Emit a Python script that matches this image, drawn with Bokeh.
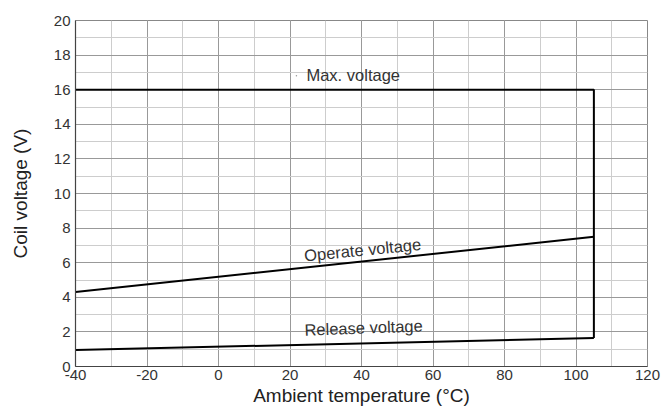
from bokeh.plotting import figure
from bokeh.models import Range1d, SingleIntervalTicker, PrintfTickFormatter
from bokeh.core.properties import value
from bokeh.embed import file_html
from bokeh.resources import INLINE

# Data
temps = [-40, 105]
max_v = [16, 16]
operate_v = [4.3, 7.5]
release_v = [0.95, 1.65]
x_ticks_interval = 20
y_ticks_interval = 2

FONT = "Liberation Sans"
TXT = "#333333"

p = figure(frame_width=572, frame_height=346, output_backend="svg", toolbar_location=None,
           x_range=Range1d(-40, 120), y_range=Range1d(0, 20),
           min_border_left=75, min_border_right=16, min_border_top=20, min_border_bottom=20)
p.background_fill_color = "white"
p.border_fill_color = "white"
p.outline_line_color = "#888888"
p.outline_line_width = 1

p.xaxis.ticker = SingleIntervalTicker(interval=x_ticks_interval, num_minor_ticks=2)
p.yaxis.ticker = SingleIntervalTicker(interval=y_ticks_interval, num_minor_ticks=2)
p.xgrid.ticker = p.xaxis.ticker
p.ygrid.ticker = p.yaxis.ticker
p.xaxis.formatter = PrintfTickFormatter(format="%d")
p.yaxis.formatter = PrintfTickFormatter(format="%d")

for g in (p.xgrid, p.ygrid):
    g.grid_line_color = "#999999"
    g.grid_line_width = 1
    g.grid_line_alpha = 1.0
    g.minor_grid_line_color = "#cdcdcd"
    g.minor_grid_line_width = 1

for ax in (p.xaxis, p.yaxis):
    ax.axis_line_color = "#444444"
    ax.axis_line_width = 1.2
    ax.major_tick_line_color = None
    ax.minor_tick_line_color = None
    ax.major_tick_out = 0
    ax.major_tick_in = 0
    ax.minor_tick_out = 0
    ax.minor_tick_in = 0
    ax.major_label_text_font = FONT
    ax.major_label_text_font_size = "15px"
    ax.major_label_text_color = TXT
    ax.axis_label_text_font = FONT
    ax.axis_label_text_font_size = "19px"
    ax.axis_label_text_font_style = "normal"
    ax.axis_label_text_color = "#222222"

p.xaxis.axis_label = "Ambient temperature (°C)"
p.yaxis.axis_label = "Coil voltage (V)"
p.xaxis.major_label_standoff = 3
p.xaxis.axis_label_standoff = 2
p.yaxis.major_label_standoff = 5
p.yaxis.axis_label_standoff = 20

# Curves
p.line(temps + [temps[-1]], max_v + [release_v[-1]], line_color="black", line_width=2)
p.line(temps, operate_v, line_color="black", line_width=2)
p.line(temps, release_v, line_color="black", line_width=2)

# Labels
p.text(x=[24.6], y=[16.84], text=["Max. voltage"], text_font=value(FONT),
       text_font_size="16.5px", text_color=TXT, text_align="left", text_baseline="middle")
p.scatter(x=[21.8], y=[16.8], size=1.5, color="#999999", line_color=None)
p.text(x=[40.3], y=[6.75], text=["Operate voltage"], text_font=value(FONT),
       text_font_size="16.5px", text_color=TXT, text_align="center", text_baseline="middle",
       angle=0.098)
p.text(x=[40.6], y=[2.25], text=["Release voltage"], text_font=value(FONT),
       text_font_size="16.5px", text_color=TXT, text_align="center", text_baseline="middle",
       angle=0.035)

open("out.html", "w").write(file_html(p, INLINE))
